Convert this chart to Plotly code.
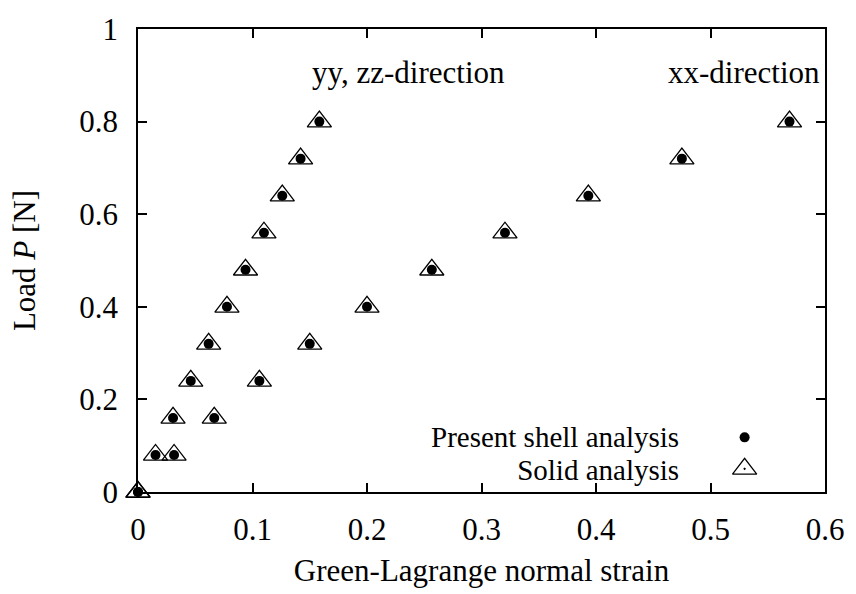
import plotly.graph_objects as go

# Load values (N)
load = [0.0, 0.08, 0.16, 0.24, 0.32, 0.40, 0.48, 0.56, 0.64, 0.72, 0.80]
# Strain in yy, zz-direction
strain_yy = [0.0, 0.0153, 0.0306, 0.0461, 0.0617, 0.0777, 0.0939, 0.110, 0.126, 0.142, 0.1584]
# Strain in xx-direction
strain_xx = [0.0, 0.0315, 0.0666, 0.106, 0.150, 0.200, 0.2566, 0.3205, 0.3933, 0.475, 0.569]

x_ticks = [0, 0.1, 0.2, 0.3, 0.4, 0.5, 0.6]
x_tick_labels = ["0", "0.1", "0.2", "0.3", "0.4", "0.5", "0.6"]
y_ticks = [0, 0.2, 0.4, 0.6, 0.8, 1.0]
y_tick_labels = ["0", "0.2", "0.4", "0.6", "0.8", "1"]

legend_names = ["Present shell analysis", "Solid analysis"]

FONT = "Liberation Serif"
FS = 31
LEG_FS = 29

tri = dict(symbol="triangle-up-open-dot", size=21, color="black", line=dict(width=1.3, color="black"))
dot = dict(symbol="circle", size=10, color="black", line=dict(width=0))

fig = go.Figure()
for xs in (strain_yy, strain_xx):
    fig.add_trace(go.Scatter(x=xs, y=load, mode="markers", marker=tri, cliponaxis=False, showlegend=False))
    fig.add_trace(go.Scatter(x=xs, y=load, mode="markers", marker=dot, cliponaxis=False, showlegend=False))

# legend keys on an overlay axis in fraction-of-plot units
fig.add_trace(go.Scatter(x=[0.883], y=[0.118], mode="markers", marker=dot, xaxis="x2", yaxis="y2",
                         cliponaxis=False, showlegend=False))
fig.add_trace(go.Scatter(x=[0.883], y=[0.050], mode="markers", marker=tri, xaxis="x2", yaxis="y2",
                         cliponaxis=False, showlegend=False))

axis_common = dict(
    showline=True, linecolor="black", linewidth=1.5, mirror="ticks",
    ticks="inside", ticklen=9, tickwidth=1.5, tickcolor="black",
    showgrid=False, zeroline=False,
    tickfont=dict(family=FONT, size=FS, color="black"),
)

ann_font = dict(family=FONT, size=FS, color="black")

legend_text = "<br>".join(
    '<span style="font-size:%dpx">%s</span>' % (LEG_FS, name) for name in legend_names
)

fig.update_layout(
    width=856, height=594,
    margin=dict(l=138, r=24, t=23, b=97),
    paper_bgcolor="white", plot_bgcolor="white",
    font=dict(family=FONT, size=FS, color="black"),
    xaxis=dict(range=[0, 0.6], tickvals=x_ticks, ticktext=x_tick_labels,
               title=dict(text="Green-Lagrange normal strain", font=ann_font, standoff=13),
               ticklabelstandoff=9, **axis_common),
    yaxis=dict(range=[0, 1], tickvals=y_ticks, ticktext=y_tick_labels,
               title=dict(text="Load <i>P</i> [N]", font=ann_font, standoff=34),
               ticklabelstandoff=12, **axis_common),
    xaxis2=dict(range=[0, 1], overlaying="x", visible=False),
    yaxis2=dict(range=[0, 1], overlaying="y", visible=False),
    annotations=[
        dict(text="yy, zz-direction", x=0.25, y=0.905, xref="paper", yref="paper",
             xanchor="left", yanchor="middle", showarrow=False, font=ann_font),
        dict(text="xx-direction", x=0.996, y=0.905, xref="paper", yref="paper",
             xanchor="right", yanchor="middle", showarrow=False, font=ann_font),
        dict(text=legend_text, x=0.791, y=0.084, xref="paper", yref="paper",
             xanchor="right", yanchor="middle", align="right",
             showarrow=False, font=dict(family=FONT, size=25.4, color="black")),
    ],
)

fig.write_html("out.html")
